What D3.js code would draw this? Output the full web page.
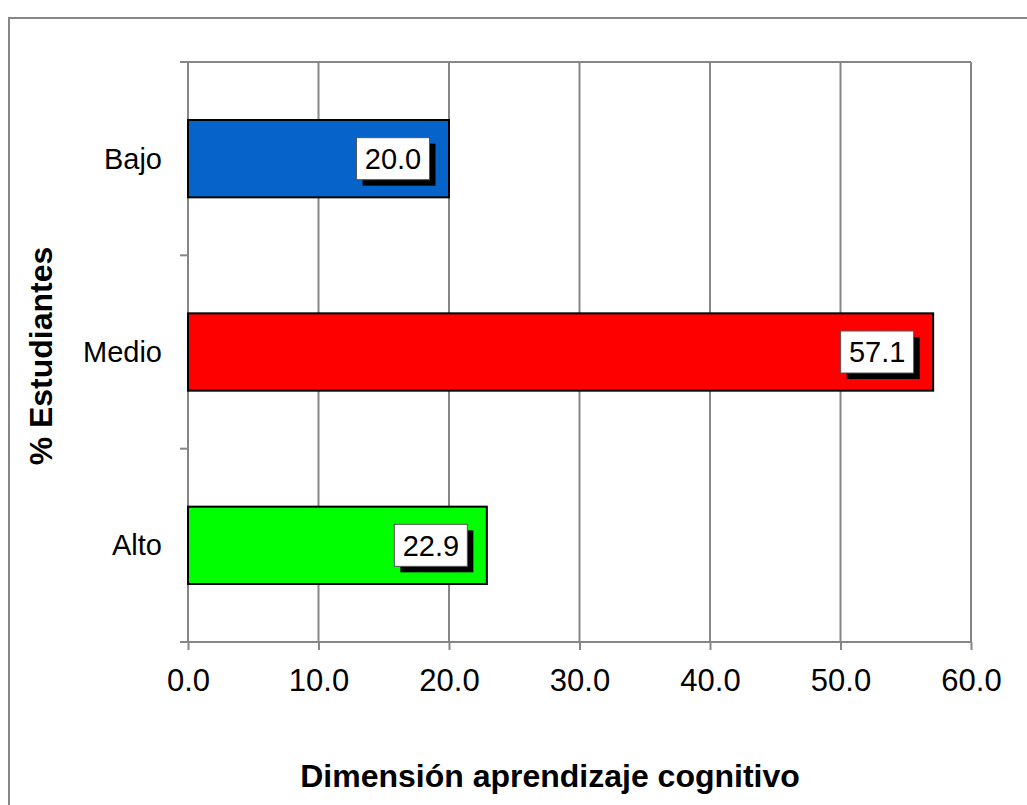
<!DOCTYPE html>
<html><head><meta charset="utf-8">
<script src="https://cdn.jsdelivr.net/npm/d3@7/dist/d3.min.js"></script>
<style>
html,body{margin:0;padding:0;background:#fff;}
svg{display:block;font-family:Arial,"Liberation Sans",sans-serif;}
</style></head>
<body>
<svg id="chart" width="1027" height="805"></svg>
<script>
const categories = ["Bajo", "Medio", "Alto"];
const values = [20.0, 57.1, 22.9];
const colors = ["#0563c9", "#ff0000", "#00ff00"];
const xTicks = [0, 10, 20, 30, 40, 50, 60];
const xTitle = "Dimensión aprendizaje cognitivo";
const yTitle = "% Estudiantes";

const svg = d3.select("#chart");
const W = 1027, H = 805;
const margin = {left: 188, right: 56, top: 62, bottom: 163};
const plotW = W - margin.left - margin.right;
const plotH = H - margin.top - margin.bottom;
const grey = "#868686";

// outer chart border
svg.append("rect").attr("x", 9).attr("y", 18).attr("width", 1040).attr("height", 820)
  .attr("fill", "none").attr("stroke", grey).attr("stroke-width", 2);

const g = svg.append("g").attr("transform", `translate(${margin.left},${margin.top})`);

const x = d3.scaleLinear().domain([0, 60]).range([0, plotW]);
const y = d3.scaleBand().domain(categories).range([0, plotH]).paddingInner(0.6).paddingOuter(0.3);

// gridlines
g.selectAll(".grid").data(xTicks.slice(1)).join("line")
  .attr("x1", d => x(d)).attr("x2", d => x(d)).attr("y1", 0).attr("y2", plotH)
  .attr("stroke", grey).attr("stroke-width", 2);
// top border line
g.append("line").attr("x1", -8).attr("x2", plotW).attr("y1", 0).attr("y2", 0)
  .attr("stroke", grey).attr("stroke-width", 2);

// x axis
const xAxis = g.append("g").attr("transform", `translate(0,${plotH})`)
  .call(d3.axisBottom(x).tickValues(xTicks).tickFormat(d3.format(".1f")).tickSizeInner(8).tickSizeOuter(0).tickPadding(19));
xAxis.select(".domain").attr("stroke", grey).attr("stroke-width", 2).attr("d", `M-8,0H${plotW}`);
xAxis.selectAll(".tick line").attr("stroke", grey).attr("stroke-width", 2);
xAxis.selectAll(".tick text").attr("font-size", 31).attr("fill", "#000")
  .attr("font-family", "Arial, 'Liberation Sans', sans-serif").attr("dy", "0.71em");

// y axis ticks at band boundaries
const yBounds = d3.range(categories.length + 1).map(i => i * plotH / categories.length);
g.append("line").attr("x1", 0).attr("x2", 0).attr("y1", 0).attr("y2", plotH)
  .attr("stroke", grey).attr("stroke-width", 2);
g.selectAll(".ytick").data(yBounds).join("line")
  .attr("x1", -8).attr("x2", 0).attr("y1", d => d).attr("y2", d => d)
  .attr("stroke", grey).attr("stroke-width", 2);
g.selectAll(".ylab").data(categories).join("text")
  .attr("x", -26).attr("y", d => y(d) + y.bandwidth() / 2)
  .attr("dy", "0.35em").attr("text-anchor", "end")
  .attr("font-size", 29).attr("fill", "#000").text(d => d);

// bars
const data = categories.map((c, i) => ({c, v: values[i], col: colors[i]}));
g.selectAll(".bar").data(data).join("rect")
  .attr("x", 0).attr("y", d => y(d.c))
  .attr("width", d => x(d.v)).attr("height", y.bandwidth())
  .attr("fill", d => d.col).attr("stroke", "#000").attr("stroke-width", 2);

// value labels with shadow boxes
const bw = 73, bh = 42;
const lab = g.selectAll(".lab").data(data).join("g")
  .attr("transform", d => `translate(${x(d.v) - 56},${y(d.c) + y.bandwidth() / 2})`);
lab.append("rect").attr("x", -bw / 2 + 6).attr("y", -bh / 2 + 6).attr("width", bw).attr("height", bh).attr("fill", "#000");
lab.append("rect").attr("x", -bw / 2).attr("y", -bh / 2).attr("width", bw).attr("height", bh)
  .attr("fill", "#fff").attr("stroke", "#555").attr("stroke-width", 1);
lab.append("text").attr("text-anchor", "middle").attr("dy", "0.36em")
  .attr("font-size", 29).attr("fill", "#000").text(d => d3.format(".1f")(d.v));

// axis titles
svg.append("text").attr("x", 550).attr("y", 787).attr("text-anchor", "middle")
  .attr("font-size", 32).attr("font-weight", "bold").attr("fill", "#000").text(xTitle);
svg.append("text").attr("transform", `translate(52,356) rotate(-90)`)
  .attr("text-anchor", "middle").attr("font-size", 32).attr("font-weight", "bold").attr("fill", "#000").text(yTitle);
</script>
</body></html>
